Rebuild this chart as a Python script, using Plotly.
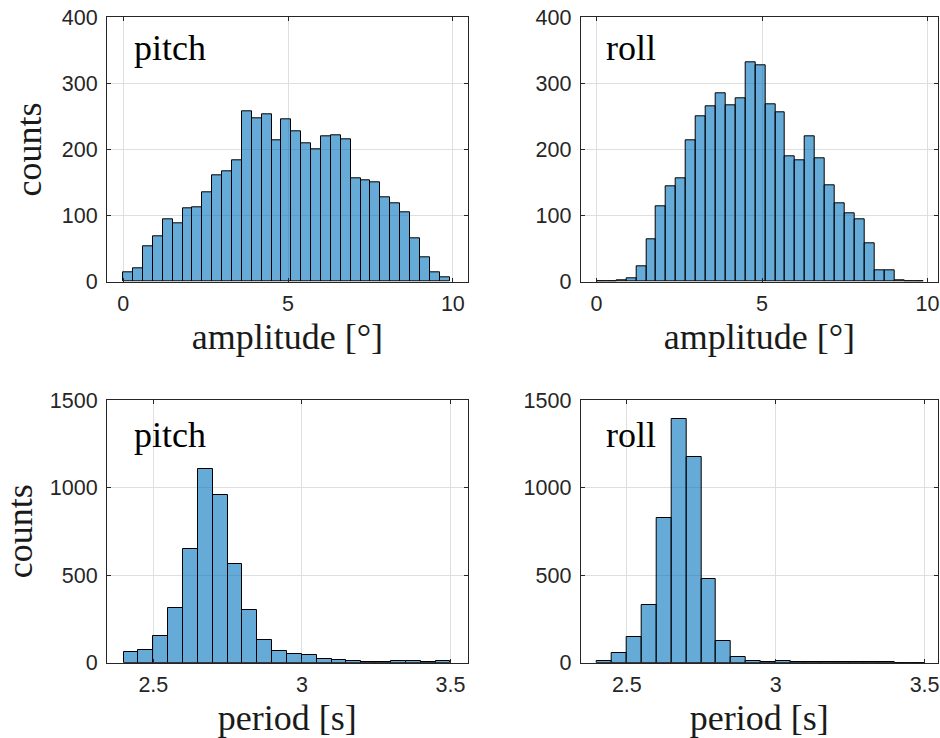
import plotly.graph_objects as go

# ---------------- data ----------------
amp_bin_start = 0.0
amp_bin_width = 0.3
amp_pitch_counts = [14, 20, 53, 69, 94, 89, 111, 113, 135, 161, 167, 184, 258, 247, 254,
                    214, 245, 228, 210, 200, 220, 222, 216, 156, 154, 151, 128, 118, 105,
                    66, 37, 14, 7]
amp_roll_counts = [0, 1, 2, 5, 24, 64, 114, 144, 157, 214, 250, 265, 285, 267, 278,
                   332, 327, 269, 256, 190, 184, 220, 186, 146, 118, 104, 95, 58, 17,
                   17, 2, 0, 0]

per_bin_start = 2.4
per_bin_width = 0.05
per_pitch_counts = [59, 72, 150, 314, 649, 1106, 956, 563, 301, 129, 65, 51, 46, 23,
                    15, 10, 6, 4, 8, 11, 4, 10]
per_roll_counts = [11, 57, 147, 329, 828, 1390, 1175, 478, 124, 32, 11, 4, 7, 6, 6, 5,
                   2, 4, 2, 2, 1, 1]

panel_labels = ["pitch", "roll", "pitch", "roll"]
amp_xticks = [0, 5, 10]
amp_yticks = [0, 100, 200, 300, 400]
per_xticks = [2.5, 3, 3.5]
per_xticklabels = ["2.5", "3", "3.5"]
per_yticks = [0, 500, 1000, 1500]

# ---------------- style ----------------
W, H = 940, 738
FILL = "rgba(0,114,189,0.6)"
EDGE = "#000000"
AXC = "#262626"
GRIDC = "#dfdfdf"
TICKFONT = dict(family="Liberation Sans, Arial, sans-serif", size=21.5, color=AXC)
SERIF = "Liberation Serif, Times New Roman, serif"
LABELFONT = dict(family=SERIF, size=36, color="#1a1a1a")

def px_dom_x(a, b):
    return [a / W, b / W]

def px_dom_y(top, bottom):
    return [1 - bottom / H, 1 - top / H]

fig = go.Figure()

def add_hist(counts, start, width, xa, ya):
    centers = [start + (i + 0.5) * width for i in range(len(counts))]
    fig.add_trace(go.Bar(
        x=centers, y=counts, width=[width] * len(counts),
        marker=dict(color=FILL, line=dict(color=EDGE, width=1)),
        xaxis=xa, yaxis=ya, showlegend=False, hoverinfo="x+y"))

add_hist(amp_pitch_counts, amp_bin_start, amp_bin_width, "x", "y")
add_hist(amp_roll_counts, amp_bin_start, amp_bin_width, "x2", "y2")
add_hist(per_pitch_counts, per_bin_start, per_bin_width, "x3", "y3")
add_hist(per_roll_counts, per_bin_start, per_bin_width, "x4", "y4")

def xax(domain, rng, tickvals, ticktext, title, anchor):
    return dict(domain=domain, range=rng, tickvals=tickvals, ticktext=ticktext,
                anchor=anchor, showline=True, linecolor=AXC, linewidth=1, mirror="ticks",
                ticks="inside", ticklen=4, tickcolor=AXC, tickwidth=1, automargin=False,
                showgrid=True, gridcolor=GRIDC, gridwidth=1, zeroline=False,
                tickfont=TICKFONT, ticklabelstandoff=2,
                title=dict(text=title, font=LABELFONT, standoff=9))

def yax(domain, rng, tickvals, title, anchor):
    return dict(domain=domain, range=rng, tickvals=tickvals, anchor=anchor,
                showline=True, linecolor=AXC, linewidth=1, mirror="ticks",
                ticks="inside", ticklen=4, tickcolor=AXC, tickwidth=1, automargin=False,
                showgrid=True, gridcolor=GRIDC, gridwidth=1, zeroline=False,
                tickfont=TICKFONT, ticklabelstandoff=4,
                title=dict(text=title, font=LABELFONT, standoff=9) if title else None)

top_dom = px_dom_y(17.3, 281.7)
bot_dom = px_dom_y(400, 662.7)
left_dom = px_dom_x(107, 467.7)
right_dom = px_dom_x(580.7, 938)

fig.update_layout(
    width=W, height=H, margin=dict(l=0, r=0, t=0, b=0, autoexpand=False),
    paper_bgcolor="white", plot_bgcolor="white", bargap=0,
    xaxis=xax(left_dom, [-0.49, 10.45], amp_xticks, [str(v) for v in amp_xticks], "amplitude [°]", "y"),
    yaxis=yax(top_dom, [0, 400], amp_yticks, "counts", "x"),
    xaxis2=xax(right_dom, [-0.48, 10.32], amp_xticks, [str(v) for v in amp_xticks], "amplitude [°]", "y2"),
    yaxis2=yax(top_dom, [0, 400], amp_yticks, None, "x2"),
    xaxis3=xax(left_dom, [2.344, 3.558], per_xticks, per_xticklabels, "period [s]", "y3"),
    yaxis3=yax(bot_dom, [0, 1500], per_yticks, "counts", "x3"),
    xaxis4=xax(right_dom, [2.345, 3.545], per_xticks, per_xticklabels, "period [s]", "y4"),
    yaxis4=yax(bot_dom, [0, 1500], per_yticks, None, "x4"),
)

label_pos = [(131.5, 26), (604, 26), (131.5, 413), (604, 413)]
for txt, (lx, ly) in zip(panel_labels, label_pos):
    fig.add_annotation(text=txt, xref="paper", yref="paper", x=lx / W, y=1 - ly / H,
                       xanchor="left", yanchor="top", showarrow=False,
                       font=dict(family=SERIF, size=36, color="#000000"))

fig.write_html("out.html")
